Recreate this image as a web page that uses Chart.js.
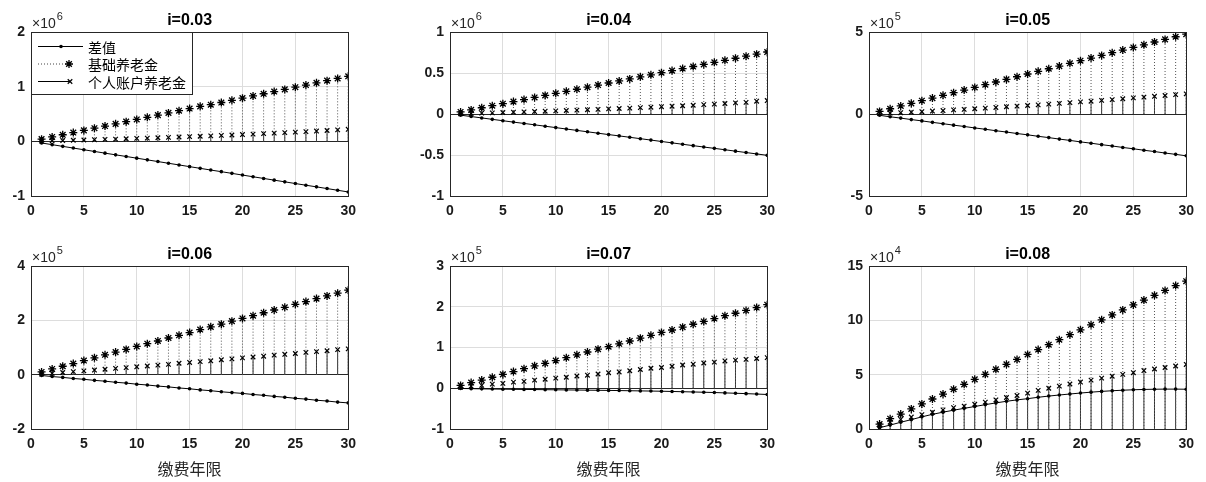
<!DOCTYPE html>
<html>
<head>
<meta charset="utf-8">
<script src="https://cdn.jsdelivr.net/npm/chart.js@4.4.0/dist/chart.umd.min.js"></script>
<style>
  body { margin: 0; background: #fff; width: 1206px; height: 482px; position: relative; overflow: hidden; }
  canvas { position: absolute; }
</style>
</head>
<body>
<canvas id="c0"></canvas>
<canvas id="c1"></canvas>
<canvas id="c2"></canvas>
<canvas id="c3"></canvas>
<canvas id="c4"></canvas>
<canvas id="c5"></canvas>
<script>
// x axis: contribution years
const years = [1,2,3,4,5,6,7,8,9,10,11,12,13,14,15,16,17,18,19,20,21,22,23,24,25,26,27,28,29,30];

const rates = ["0.03", "0.04", "0.05", "0.06", "0.07", "0.08"];
const exponents = [6, 6, 5, 5, 5, 4];
const yMin = [-1, -1, -5, -2, -1, 0];
const yMax = [2, 1, 5, 4, 3, 15];
const yStep = [1, 0.5, 5, 2, 1, 5];

// values in units of 10^exponent
// i=0.03
const basic03 = [0.04,0.08,0.12,0.16,0.20,0.24,0.28,0.32,0.36,0.40,0.44,0.48,0.52,0.56,0.60,0.64,0.67,0.71,0.75,0.79,0.83,0.87,0.91,0.95,0.99,1.03,1.07,1.11,1.15,1.19];
const personal03 = [0.005,0.010,0.015,0.020,0.025,0.030,0.035,0.041,0.047,0.053,0.059,0.065,0.072,0.079,0.086,0.093,0.100,0.108,0.116,0.124,0.132,0.141,0.150,0.159,0.168,0.178,0.188,0.198,0.209,0.220];
const diff03 = [-0.030,-0.061,-0.092,-0.123,-0.154,-0.185,-0.216,-0.247,-0.277,-0.308,-0.339,-0.370,-0.401,-0.432,-0.463,-0.494,-0.525,-0.555,-0.586,-0.617,-0.648,-0.679,-0.710,-0.741,-0.772,-0.803,-0.833,-0.864,-0.895,-0.926];
// i=0.04
const basic04 = [0.025,0.050,0.076,0.101,0.126,0.151,0.176,0.202,0.227,0.252,0.277,0.302,0.327,0.353,0.378,0.403,0.428,0.453,0.478,0.504,0.529,0.554,0.579,0.604,0.630,0.655,0.680,0.705,0.730,0.756];
const personal04 = [0.003,0.006,0.010,0.014,0.018,0.022,0.026,0.030,0.034,0.038,0.043,0.047,0.052,0.057,0.062,0.067,0.072,0.077,0.083,0.089,0.095,0.101,0.107,0.114,0.121,0.128,0.135,0.142,0.156,0.164];
const diff04 = [-0.014,-0.031,-0.048,-0.065,-0.082,-0.099,-0.115,-0.132,-0.149,-0.166,-0.183,-0.200,-0.217,-0.234,-0.251,-0.267,-0.284,-0.301,-0.318,-0.335,-0.352,-0.369,-0.386,-0.403,-0.419,-0.436,-0.453,-0.470,-0.487,-0.504];
// i=0.05
const basic05 = [0.16,0.32,0.49,0.65,0.81,0.97,1.14,1.30,1.46,1.62,1.79,1.95,2.11,2.27,2.44,2.60,2.76,2.92,3.09,3.25,3.41,3.57,3.74,3.90,4.06,4.22,4.39,4.55,4.71,4.87];
const personal05 = [0.02,0.05,0.08,0.11,0.14,0.18,0.21,0.25,0.28,0.32,0.36,0.40,0.44,0.48,0.52,0.56,0.60,0.65,0.69,0.74,0.78,0.83,0.88,0.93,0.98,1.03,1.08,1.13,1.18,1.23];
const diff05 = [-0.08,-0.17,-0.25,-0.34,-0.42,-0.51,-0.59,-0.68,-0.76,-0.85,-0.93,-1.02,-1.10,-1.19,-1.27,-1.36,-1.44,-1.53,-1.61,-1.70,-1.78,-1.87,-1.95,-2.04,-2.12,-2.21,-2.29,-2.38,-2.46,-2.55];
// i=0.06
const basic06 = [0.10,0.21,0.31,0.41,0.52,0.62,0.73,0.83,0.93,1.04,1.14,1.24,1.35,1.45,1.55,1.66,1.76,1.86,1.97,2.07,2.17,2.28,2.38,2.48,2.59,2.69,2.80,2.90,3.00,3.11];
const personal06 = [0.02,0.05,0.08,0.11,0.14,0.17,0.20,0.23,0.26,0.29,0.32,0.35,0.38,0.42,0.45,0.48,0.51,0.55,0.58,0.62,0.65,0.68,0.72,0.75,0.78,0.82,0.85,0.88,0.92,0.95];
const diff06 = [-0.03,-0.07,-0.10,-0.14,-0.17,-0.21,-0.24,-0.28,-0.31,-0.35,-0.38,-0.42,-0.45,-0.49,-0.52,-0.56,-0.59,-0.63,-0.66,-0.69,-0.73,-0.76,-0.80,-0.83,-0.87,-0.90,-0.94,-0.97,-1.01,-1.04];
// i=0.07
const basic07 = [0.07,0.14,0.20,0.27,0.34,0.41,0.48,0.55,0.61,0.68,0.75,0.82,0.89,0.96,1.02,1.09,1.16,1.23,1.30,1.37,1.43,1.50,1.57,1.64,1.71,1.78,1.84,1.91,1.98,2.05];
const personal07 = [0.02,0.05,0.07,0.10,0.12,0.15,0.17,0.20,0.22,0.25,0.27,0.30,0.32,0.35,0.38,0.40,0.43,0.46,0.49,0.51,0.54,0.57,0.59,0.62,0.64,0.67,0.69,0.71,0.73,0.75];
const diff07 = [-0.005,-0.010,-0.015,-0.019,-0.023,-0.026,-0.029,-0.032,-0.035,-0.038,-0.041,-0.044,-0.047,-0.050,-0.053,-0.057,-0.061,-0.065,-0.069,-0.073,-0.079,-0.085,-0.091,-0.098,-0.105,-0.114,-0.123,-0.132,-0.142,-0.153];
// i=0.08
const basic08 = [0.45,0.95,1.37,1.85,2.31,2.76,3.21,3.66,4.11,4.57,5.03,5.49,5.95,6.40,6.86,7.31,7.76,8.22,8.68,9.13,9.59,10.05,10.50,10.96,11.42,11.86,12.30,12.75,13.20,13.60];
const personal08 = [0.35,0.62,0.88,1.10,1.32,1.54,1.76,1.96,2.10,2.28,2.47,2.68,2.90,3.08,3.30,3.55,3.75,3.95,4.14,4.32,4.50,4.68,4.86,5.03,5.18,5.38,5.52,5.66,5.80,5.94];
const diff08 = [0.12,0.36,0.62,0.86,1.12,1.35,1.55,1.73,1.90,2.07,2.24,2.40,2.55,2.68,2.79,2.92,3.03,3.13,3.22,3.31,3.39,3.46,3.52,3.57,3.61,3.64,3.66,3.67,3.67,3.66];

const basicSeries = [basic03, basic04, basic05, basic06, basic07, basic08];
const personalSeries = [personal03, personal04, personal05, personal06, personal07, personal08];
const diffSeries = [diff03, diff04, diff05, diff06, diff07, diff08];

const legendLabels = ["差值", "基础养老金", "个人账户养老金"];
const xTitle = "缴费年限";

// layout
const SANS = 'Arial, "Liberation Sans", Helvetica, sans-serif';
const CJK = '"Noto Sans CJK SC", sans-serif';
const plotLefts = [31, 450, 869];
const plotTops = [32, 266];
const plotW = 318;
const plotH = [164, 163];
const Y_W = 31;
const PAD_TOP = 32;
const PAD_RIGHT = 14;
const X_H = [22, 53];

const pts = (vals) => years.map((x, i) => ({ x, y: vals[i] }));
const stem = (vals) => years.flatMap((x, i) => [{ x, y: 0 }, { x, y: vals[i] }, { x, y: null }]);

function drawLegend(ctx, a) {
  const L = a.left, T = a.top;
  ctx.fillStyle = '#fff';
  ctx.fillRect(L + 1, T + 1, 161, 62);
  ctx.strokeStyle = '#262626';
  ctx.lineWidth = 1;
  ctx.strokeRect(L + 0.5, T + 0.5, 161, 62);
  const rows = [T + 14.5, T + 32, T + 49.5];
  ctx.strokeStyle = '#000';
  // 差值
  ctx.beginPath(); ctx.moveTo(L + 7, rows[0]); ctx.lineTo(L + 52, rows[0]); ctx.stroke();
  ctx.fillStyle = '#000';
  ctx.beginPath(); ctx.arc(L + 30, rows[0], 1.8, 0, Math.PI * 2); ctx.fill();
  // 基础养老金
  ctx.strokeStyle = '#444';
  ctx.setLineDash([1, 2]);
  ctx.beginPath(); ctx.moveTo(L + 7, rows[1]); ctx.lineTo(L + 37, rows[1]); ctx.stroke();
  ctx.setLineDash([]);
  ctx.strokeStyle = '#000';
  ctx.lineWidth = 1.3;
  Chart.helpers.drawPoint(ctx, { pointStyle: 'star', radius: 4, borderWidth: 1.3, rotation: 0 }, L + 38, rows[1]);
  ctx.lineWidth = 1;
  // 个人账户养老金
  ctx.beginPath(); ctx.moveTo(L + 7, rows[2]); ctx.lineTo(L + 39, rows[2]); ctx.stroke();
  ctx.lineWidth = 1.2;
  Chart.helpers.drawPoint(ctx, { pointStyle: 'crossRot', radius: 3.2, borderWidth: 1.2, rotation: 0 }, L + 39, rows[2]);
  ctx.fillStyle = '#000';
  ctx.font = '14px ' + CJK;
  ctx.textAlign = 'left';
  ctx.textBaseline = 'middle';
  legendLabels.forEach((t, k) => ctx.fillText(t, L + 57, rows[k] + 1));
}

const panelDecor = {
  id: 'panelDecor',
  afterDraw(chart, args, opts) {
    const { ctx, chartArea: a } = chart;
    ctx.save();
    // axes box
    ctx.strokeStyle = '#262626';
    ctx.lineWidth = 1;
    ctx.strokeRect(Math.round(a.left) + 0.5, Math.round(a.top) + 0.5,
                   Math.round(a.right - a.left), Math.round(a.bottom - a.top));
    // title
    ctx.fillStyle = '#000';
    ctx.font = 'bold 16px ' + SANS;
    ctx.textAlign = 'center';
    ctx.textBaseline = 'alphabetic';
    ctx.fillText(opts.title, (a.left + a.right) / 2, a.top - 7);
    // exponent marker
    ctx.textAlign = 'left';
    ctx.fillStyle = '#262626';
    ctx.font = '14px ' + SANS;
    ctx.fillText('×10', a.left + 1, a.top - 4);
    const w = ctx.measureText('×10').width;
    ctx.font = '11px ' + SANS;
    ctx.fillText(String(opts.exp), a.left + 2 + w, a.top - 12);
    if (opts.legend) drawLegend(ctx, a);
    ctx.restore();
  }
};

rates.forEach((rate, k) => {
  const row = Math.floor(k / 3), col = k % 3;
  const canvas = document.getElementById('c' + k);
  const cw = Y_W + plotW + PAD_RIGHT;
  const ch = PAD_TOP + plotH[row] + X_H[row];
  canvas.width = cw; canvas.height = ch;
  canvas.style.width = cw + 'px'; canvas.style.height = ch + 'px';
  canvas.style.left = (plotLefts[col] - Y_W) + 'px';
  canvas.style.top = (plotTops[row] - PAD_TOP) + 'px';

  const b = basicSeries[k], p = personalSeries[k], d = diffSeries[k];

  new Chart(canvas, {
    type: 'line',
    data: {
      datasets: [
        { label: '基础养老金', data: pts(b), showLine: false, pointStyle: 'star', pointRadius: 4,
          pointBorderWidth: 1.3, borderColor: '#000', backgroundColor: '#000', order: 0 },
        { label: '个人账户养老金', data: pts(p), showLine: false, pointStyle: 'crossRot', pointRadius: 3.2,
          pointBorderWidth: 1.2, borderColor: '#000', backgroundColor: '#000', order: 0 },
        { label: '差值', data: pts(d), borderColor: '#000', borderWidth: 1, pointStyle: 'circle',
          pointRadius: 1.8, pointBorderWidth: 0, pointBackgroundColor: '#000', tension: 0, order: 1 },
        { label: 'stemBasic', data: stem(b), borderColor: '#555', borderWidth: 1, borderDash: [1, 2],
          pointRadius: 0, order: 2 },
        { label: 'stemPersonal', data: stem(p), borderColor: '#333', borderWidth: 1,
          pointRadius: 0, order: 2 }
      ]
    },
    options: {
      responsive: false,
      animation: false,
      devicePixelRatio: 1,
      layout: { padding: { top: PAD_TOP, right: PAD_RIGHT, left: 0, bottom: 0 } },
      plugins: {
        legend: { display: false },
        tooltip: { enabled: false },
        panelDecor: { title: 'i=' + rate, exp: exponents[k], legend: k === 0 }
      },
      scales: {
        x: {
          type: 'linear', min: 0, max: 30,
          ticks: { stepSize: 5, padding: 7, color: '#1a1a1a', font: { family: SANS, size: 14, weight: 'bold' } },
          grid: { color: '#dddddd', drawTicks: false },
          border: { display: false },
          title: { display: row === 1, text: xTitle, color: '#262626',
                   font: { family: CJK, size: 16 }, padding: { top: 0, bottom: 3 } },
          afterFit: (s) => { s.height = X_H[row]; }
        },
        y: {
          type: 'linear', min: yMin[k], max: yMax[k],
          ticks: { stepSize: yStep[k], padding: 6, color: '#1a1a1a',
                   font: { family: SANS, size: 14, weight: 'bold' }, callback: (v) => String(v) },
          grid: { color: (c) => (c.tick && c.tick.value === 0 ? '#262626' : '#dddddd'), drawTicks: false },
          border: { display: false },
          afterFit: (s) => { s.width = Y_W; }
        }
      }
    },
    plugins: [panelDecor]
  });
});
</script>
</body>
</html>
